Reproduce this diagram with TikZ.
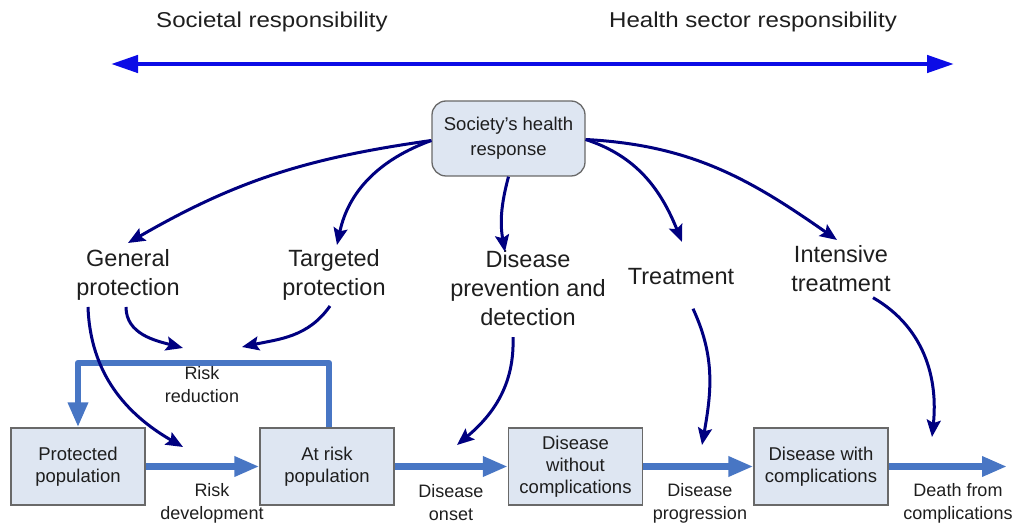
\documentclass[tikz,border=0pt]{standalone}
\usepackage{fontspec}
\setmainfont{Liberation Sans}
\newfontfamily\widefont[FakeStretch=1.12]{Liberation Sans}
\usepackage{tikz}
\usetikzlibrary{arrows.meta,positioning,calc}
\definecolor{hblue}{RGB}{12,12,230}
\definecolor{hnavy}{RGB}{0,0,128}
\definecolor{hflow}{RGB}{72,118,196}
\definecolor{hfill}{RGB}{222,230,242}
\definecolor{hgray}{RGB}{105,105,105}
\definecolor{htext}{RGB}{30,30,30}

\begin{document}
\begin{tikzpicture}[x=1pt,y=1pt,text=htext,
  stage/.style={draw=hgray,line width=1.3pt,fill=hfill,minimum width=134pt,
    minimum height=77pt,inner sep=2pt,align=center,font=\fontsize{18.5}{22}\selectfont},
  hub/.style={stage,rounded corners=14pt,minimum width=153pt,minimum height=75pt,
    font=\fontsize{18.5}{25}\selectfont},
  actlab/.style={align=center,font=\fontsize{23.5}{29}\selectfont},
  flowlab/.style={align=center,font=\fontsize{18}{23}\selectfont},
  toplab/.style={font=\widefont\fontsize{21.5}{26}\selectfont},
  flow/.style={draw=hflow,line width=6.5pt,line join=round,
    -{Triangle[length=25pt,width=19pt]}},
  resp/.style={draw=hnavy,line width=3pt,-{Stealth[length=17pt,width=14pt,inset=3pt]}}]
\useasboundingbox (0,0) rectangle (1021,528);

% responsibility scale
\node[toplab] (soc) at (272,506) {Societal responsibility};
\node[toplab] (hsec) at (753,506) {Health sector responsibility};
\coordinate (lend) at (111,464);
\coordinate (rend) at (954,464);
\draw[draw=hblue,line width=4.5pt,{Triangle[length=27pt,width=17pt]}-{Triangle[length=27pt,width=17pt]}] (lend) -- (rend);

% response and its actions
\node[hub] (shr) at (508.5,389.5) {Society’s health\\response};
\node[actlab] (gen) at (128,253) {General\\protection};
\node[actlab] (targ) at (334,253) {Targeted\\protection};
\node[actlab] (prev) at (528,240) {Disease\\prevention and\\detection};
\node[actlab] (treat) at (681,251) {Treatment};
\node[actlab] (inten) at (841,259) {Intensive\\treatment};

\coordinate (genTop) at (128,285);
\coordinate (targTop) at (337,283);
\coordinate (prevTop) at (505,276);
\coordinate (treatTop) at (682,286);
\coordinate (intenTop) at (837,288);
\draw[resp] ([yshift=-2pt]shr.west) to[out=188,in=30] (genTop);
\draw[resp] ([yshift=-2pt]shr.west) to[out=200,in=78] (targTop);
\draw[resp] (shr.south) to[out=255,in=100] (prevTop);
\draw[resp] ([yshift=-1pt]shr.east) to[out=-18,in=112] (treatTop);
\draw[resp] ([yshift=-1pt]shr.east) to[out=-3,in=145] (intenTop);

% population stages
\foreach \nm/\xx/\txt in {prot/78/{Protected\\population},
  risk/327/{At risk\\population},
  nocomp/575.5/{Disease\\without\\complications},
  comp/821/{Disease with\\complications}}
  \node[stage] (\nm) at (\xx,61.5) {\txt};

\foreach \a/\b in {prot/risk,risk/nocomp,nocomp/comp}
  \draw[flow] (\a.east) -- (\b.west);
\coordinate (deathIn) at (1007,61.5);
\draw[flow] (comp.east) -- (deathIn);

\node[flowlab] (rdev) at (212,25) {Risk\\development};
\node[flowlab] (onset) at (451,25) {Disease\\onset};
\node[flowlab] (prog) at (700,25) {Disease\\progression};
\node[flowlab] (dcomp) at (958,25) {Death from\\complications};

% risk reduction loop
\coordinate (loop) at (78,165);
\draw[flow] ([xshift=2pt]risk.north) |- (loop) -- (prot.north);
\node[flowlab] (rred) at (202,143) {Risk\\reduction};

% actions acting on the flows
\coordinate (rrL) at (183,180);
\coordinate (rrR) at (242,181);
\coordinate (devIn) at (183,81);
\coordinate (onsIn) at (457,83);
\coordinate (progIn) at (702,83);
\coordinate (compIn) at (932,91);
\draw[resp] ([xshift=-2pt,yshift=-3pt]gen.south) to[out=-90,in=165] (rrL);
\draw[resp] ([xshift=-4pt,yshift=-2pt]targ.south) to[out=235,in=12] (rrR);
\draw[resp] ([xshift=-40pt,yshift=-3pt]gen.south) to[out=-88,in=150] (devIn);
\draw[resp] ([xshift=-15pt,yshift=-8pt]prev.south) to[out=-88,in=40] (onsIn);
\draw[resp] ([xshift=12pt,yshift=-20pt]treat.south) to[out=-65,in=80] (progIn);
\draw[resp] ([xshift=32pt,yshift=-2pt]inten.south) to[out=-30,in=84] (compIn);
\end{tikzpicture}
\end{document}
